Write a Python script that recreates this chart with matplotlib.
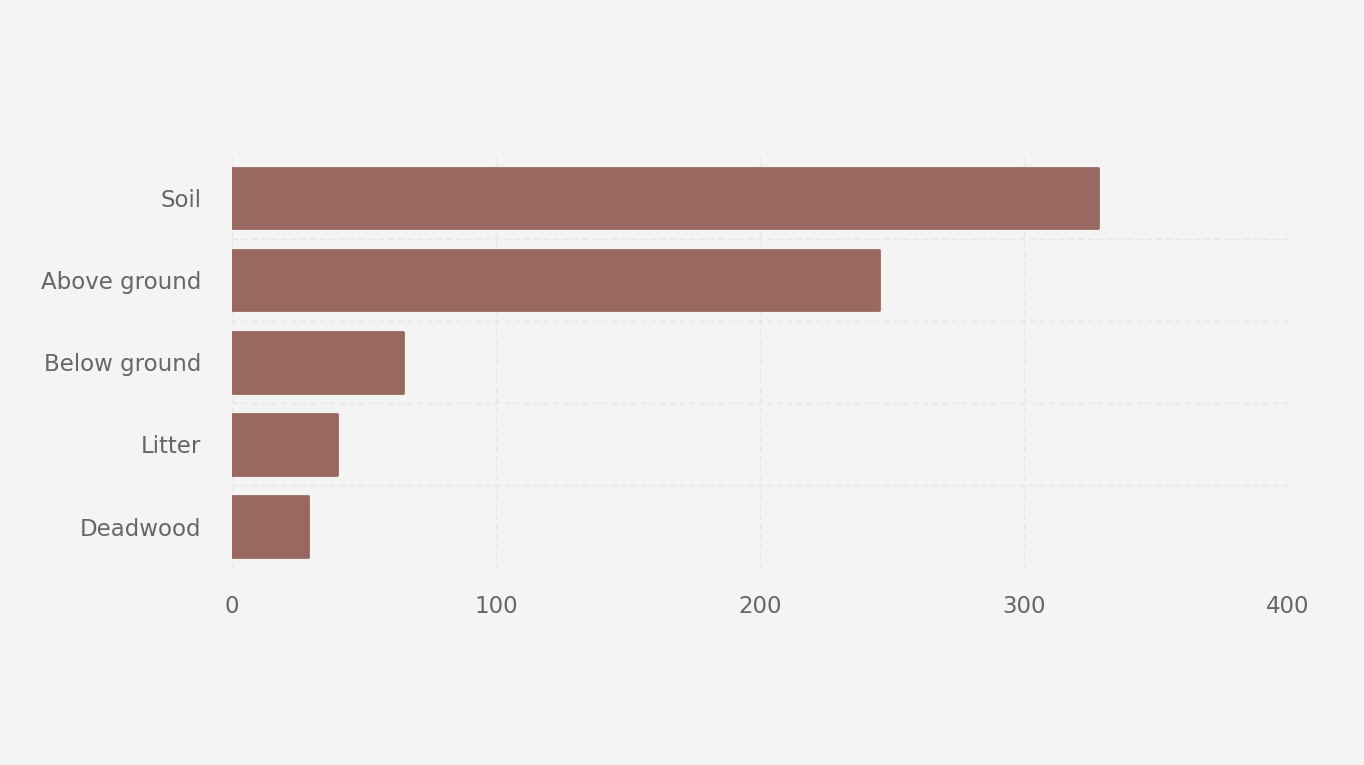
import matplotlib
matplotlib.use("Agg")
import matplotlib.pyplot as plt

# carbon pools
categories = ["Soil", "Above ground", "Below ground", "Litter", "Deadwood"]
values = [328, 245, 65, 40, 29]
x_ticks = [0, 100, 200, 300, 400]

bg = "#f4f4f4"
bar_color = "#996860"

fig = plt.figure(figsize=(13.64, 7.65), dpi=100, facecolor=bg)
ax = fig.add_axes([0.170, 0.258, 0.774, 0.537])
ax.set_facecolor(bg)

ax.barh(categories, values, height=0.74, color=bar_color,
        edgecolor=bar_color, linewidth=2, joinstyle="round", zorder=3)

ax.set_xlim(0, 400)
ax.set_ylim(len(categories) - 0.5, -0.5)
ax.set_xticks(x_ticks)
ax.set_xticklabels([str(t) for t in x_ticks])

ax.grid(True, color="#e6e6e6", linewidth=1, linestyle=(0, (4, 3)), zorder=0)
ax.set_yticks([i + 0.5 for i in range(len(categories) - 1)], minor=True)
ax.yaxis.grid(False)
ax.yaxis.grid(True, which="minor", color="#e6e6e6", linewidth=1, linestyle=(0, (4, 3)))

for s in ax.spines.values():
    s.set_visible(False)
ax.tick_params(axis="both", which="both", length=0, labelsize=16.5, colors="#666666")
ax.tick_params(axis="y", pad=22)
ax.tick_params(axis="x", pad=20)

fig.savefig("out.png", dpi=100, facecolor=bg)
